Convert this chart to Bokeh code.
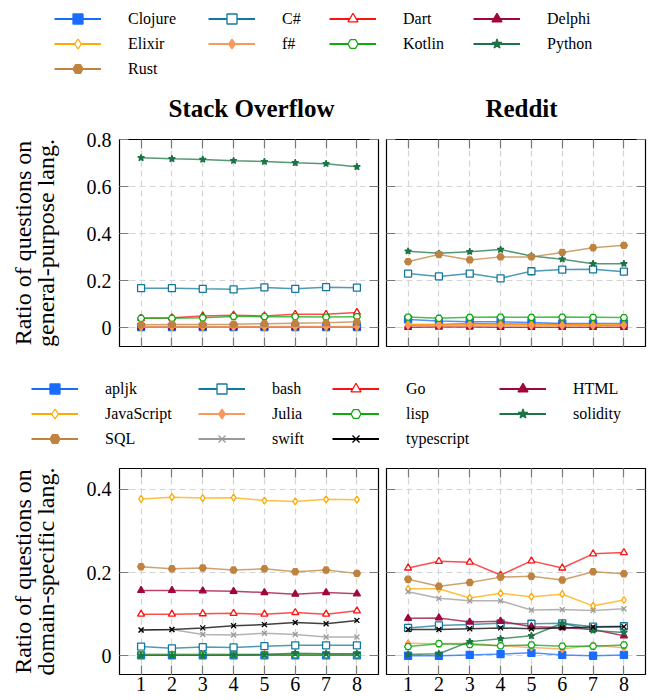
from bokeh.plotting import figure
from bokeh.layouts import column, row
from bokeh.models import (Legend, LegendItem, FixedTicker, LinearAxis, Range1d,
                          CustomLabelingPolicy, Label)
from bokeh.embed import file_html
from bokeh.resources import INLINE

FONT = "Liberation Serif"

# ---------------- data ----------------
x_vals = [1, 2, 3, 4, 5, 6, 7, 8]
x_ticks = [1, 2, 3, 4, 5, 6, 7, 8]
gp_yticks = [0, 0.2, 0.4, 0.6, 0.8]
ds_yticks = [0, 0.2, 0.4]
panel_titles = ["Stack Overflow", "Reddit"]

gp_langs = ["Clojure", "C#", "Dart", "Delphi", "Elixir", "f#", "Kotlin", "Python", "Rust"]
ds_langs = ["apljk", "bash", "Go", "HTML", "JavaScript", "Julia", "lisp", "solidity", "SQL", "swift", "typescript"]

# Stack Overflow, general-purpose
so_clojure = [0.003, 0.003, 0.003, 0.003, 0.003, 0.003, 0.003, 0.003]
so_csharp = [0.168, 0.168, 0.165, 0.163, 0.171, 0.165, 0.172, 0.170]
so_dart = [0.040, 0.042, 0.050, 0.053, 0.050, 0.057, 0.057, 0.065]
so_delphi = [0.002, 0.002, 0.002, 0.002, 0.002, 0.002, 0.002, 0.002]
so_elixir = [0.002, 0.002, 0.002, 0.002, 0.002, 0.002, 0.002, 0.002]
so_fsharp = [0.005, 0.005, 0.005, 0.005, 0.005, 0.005, 0.005, 0.005]
so_kotlin = [0.040, 0.040, 0.042, 0.048, 0.047, 0.047, 0.045, 0.047]
so_python = [0.722, 0.718, 0.715, 0.710, 0.706, 0.701, 0.697, 0.684]
so_rust = [0.012, 0.014, 0.014, 0.015, 0.017, 0.019, 0.021, 0.025]

# Reddit, general-purpose
rd_clojure = [0.035, 0.028, 0.025, 0.025, 0.022, 0.018, 0.018, 0.018]
rd_csharp = [0.230, 0.218, 0.230, 0.210, 0.240, 0.247, 0.248, 0.238]
rd_dart = [0.010, 0.012, 0.018, 0.016, 0.015, 0.013, 0.010, 0.010]
rd_delphi = [0.002, 0.003, 0.003, 0.002, 0.002, 0.002, 0.002, 0.002]
rd_elixir = [0.015, 0.015, 0.016, 0.015, 0.014, 0.012, 0.012, 0.013]
rd_fsharp = [0.008, 0.008, 0.009, 0.008, 0.007, 0.007, 0.007, 0.008]
rd_kotlin = [0.045, 0.040, 0.044, 0.045, 0.044, 0.045, 0.044, 0.043]
rd_python = [0.325, 0.316, 0.323, 0.332, 0.305, 0.291, 0.272, 0.272]
rd_rust = [0.281, 0.311, 0.288, 0.301, 0.301, 0.320, 0.340, 0.350]

# Stack Overflow, domain-specific
so_apljk = [0.001, 0.001, 0.001, 0.001, 0.001, 0.001, 0.001, 0.001]
so_bash = [0.022, 0.018, 0.021, 0.020, 0.023, 0.025, 0.025, 0.025]
so_go = [0.100, 0.100, 0.101, 0.102, 0.100, 0.104, 0.100, 0.108]
so_html = [0.157, 0.157, 0.156, 0.155, 0.152, 0.148, 0.152, 0.149]
so_javascript = [0.377, 0.381, 0.379, 0.380, 0.373, 0.371, 0.376, 0.375]
so_julia = [0.004, 0.004, 0.004, 0.004, 0.004, 0.004, 0.004, 0.004]
so_lisp = [0.002, 0.002, 0.002, 0.002, 0.002, 0.002, 0.002, 0.002]
so_solidity = [0.001, 0.001, 0.001, 0.002, 0.003, 0.006, 0.005, 0.005]
so_sql = [0.214, 0.209, 0.211, 0.206, 0.209, 0.202, 0.206, 0.198]
so_swift = [0.062, 0.063, 0.051, 0.050, 0.054, 0.051, 0.045, 0.045]
so_typescript = [0.062, 0.063, 0.067, 0.072, 0.075, 0.080, 0.077, 0.085]

# Reddit, domain-specific
rd_apljk = [0.000, 0.000, 0.002, 0.004, 0.007, 0.002, 0.000, 0.002]
rd_bash = [0.067, 0.073, 0.075, 0.078, 0.077, 0.078, 0.070, 0.071]
rd_go = [0.211, 0.227, 0.225, 0.194, 0.228, 0.211, 0.245, 0.248]
rd_html = [0.090, 0.091, 0.081, 0.083, 0.070, 0.068, 0.063, 0.048]
rd_javascript = [0.161, 0.161, 0.139, 0.150, 0.142, 0.148, 0.120, 0.134]
rd_julia = [0.030, 0.029, 0.030, 0.024, 0.020, 0.016, 0.025, 0.019]
rd_lisp = [0.022, 0.029, 0.027, 0.024, 0.026, 0.023, 0.023, 0.026]
rd_solidity = [0.003, 0.005, 0.034, 0.041, 0.048, 0.078, 0.061, 0.056]
rd_sql = [0.184, 0.167, 0.176, 0.189, 0.191, 0.182, 0.202, 0.197]
rd_swift = [0.154, 0.138, 0.132, 0.132, 0.110, 0.111, 0.109, 0.113]
rd_typescript = [0.063, 0.063, 0.065, 0.067, 0.065, 0.067, 0.069, 0.070]

so_gp = {"Clojure": so_clojure, "C#": so_csharp, "Dart": so_dart, "Delphi": so_delphi,
         "Elixir": so_elixir, "f#": so_fsharp, "Kotlin": so_kotlin, "Python": so_python, "Rust": so_rust}
rd_gp = {"Clojure": rd_clojure, "C#": rd_csharp, "Dart": rd_dart, "Delphi": rd_delphi,
         "Elixir": rd_elixir, "f#": rd_fsharp, "Kotlin": rd_kotlin, "Python": rd_python, "Rust": rd_rust}
so_ds = {"apljk": so_apljk, "bash": so_bash, "Go": so_go, "HTML": so_html, "JavaScript": so_javascript,
         "Julia": so_julia, "lisp": so_lisp, "solidity": so_solidity, "SQL": so_sql,
         "swift": so_swift, "typescript": so_typescript}
rd_ds = {"apljk": rd_apljk, "bash": rd_bash, "Go": rd_go, "HTML": rd_html, "JavaScript": rd_javascript,
         "Julia": rd_julia, "lisp": rd_lisp, "solidity": rd_solidity, "SQL": rd_sql,
         "swift": rd_swift, "typescript": rd_typescript}

# ---------------- styles ----------------
BLUE, TEAL, RED, MAROON = "#1a6cff", "#13789f", "#ff1010", "#a0063c"
ORANGE, SALMON, GREEN, DGREEN = "#ffaa00", "#f7985e", "#10aa10", "#1d7446"
BROWN, GRAY, BLACK = "#c0823f", "#999999", "#000000"

style = {
    "Clojure": (BLUE, "square", True), "apljk": (BLUE, "square", True),
    "C#": (TEAL, "square", False), "bash": (TEAL, "square", False),
    "Dart": (RED, "triangle", False), "Go": (RED, "triangle", False),
    "Delphi": (MAROON, "triangle", True), "HTML": (MAROON, "triangle", True),
    "Elixir": (ORANGE, "diamond", False), "JavaScript": (ORANGE, "diamond", False),
    "f#": (SALMON, "diamond", True), "Julia": (SALMON, "diamond", True),
    "Kotlin": (GREEN, "hex", False), "lisp": (GREEN, "hex", False),
    "Python": (DGREEN, "star", True), "solidity": (DGREEN, "star", True),
    "Rust": (BROWN, "hex", True), "SQL": (BROWN, "hex", True),
    "swift": (GRAY, "x", False), "typescript": (BLACK, "x", False),
}

HIDE_LABELS = CustomLabelingPolicy(code="for (const i of indices) indices.unset(i)")

ROW = 25  # legend row pitch


def draw_series(p, name, ys, size, lw, lalpha):
    color, marker, filled = style[name]
    r1 = p.line(x_vals, ys, line_color=color, line_width=lw, line_alpha=lalpha)
    r2 = p.scatter(x_vals, ys, marker=marker, size=size, line_color=color,
                   fill_color=color if filled else "white", line_width=1.3)
    return [r1, r2]


def make_legend_fig(height, columns, data, lang_list):
    # legend-only figure: the series are drawn outside its visible range
    p = figure(width=648, height=height, output_backend="svg", toolbar_location=None,
               x_range=Range1d(-20, -19), y_range=Range1d(-20, -19), min_border=0)
    p.axis.visible = False
    p.grid.visible = False
    p.outline_line_color = None
    rend = {}
    for name in lang_list:
        rend[name] = draw_series(p, name, data[name], 11, 2, 1.0)
    for (xpos, top, names) in columns:
        h = len(names) * ROW
        leg = Legend(items=[LegendItem(label=nm, renderers=rend[nm]) for nm in names],
                     location=(xpos, height - top - h), orientation="vertical",
                     glyph_width=47, glyph_height=ROW, spacing=0, padding=0, margin=0,
                     label_standoff=27, label_text_font=FONT, label_text_font_size="16px",
                     label_text_color="#000000", label_height=20,
                     border_line_color=None, background_fill_alpha=0)
        p.add_layout(leg, "center")
    return p


def make_panel(width, height, yrange, yticks, mbl, mbr, mbt, mbb, data, names,
               ylabels=False, xlabels=False, ylabel=None):
    p = figure(width=width, height=height, output_backend="svg", toolbar_location=None,
               x_range=Range1d(0.3, 8.7), y_range=Range1d(*yrange),
               min_border_left=mbl, min_border_right=mbr, min_border_top=mbt, min_border_bottom=mbb)
    p.add_layout(LinearAxis(), "above")
    p.add_layout(LinearAxis(), "right")
    for ax in p.xaxis:
        ax.ticker = FixedTicker(ticks=x_ticks)
    for ax in p.yaxis:
        ax.ticker = FixedTicker(ticks=yticks)
        ax.major_label_overrides = {0: "0"}
    for ax in p.axis:
        ax.axis_line_color = None
        ax.major_tick_in = 9
        ax.major_tick_out = 0
        ax.major_tick_line_color = "#7a7a7a"
        ax.major_tick_line_width = 1.2
        ax.minor_tick_line_color = None
        ax.major_label_text_font = FONT
        ax.major_label_text_font_size = "0px"
        ax.major_label_standoff = 0
        ax.major_label_policy = HIDE_LABELS
    if ylabels:
        ax = p.left[0]
        ax.major_label_text_font_size = "20px"
        ax.major_label_standoff = 8
        ax.major_label_text_color = "#000000"
        ax.major_label_policy = CustomLabelingPolicy(code="return indices")
    if xlabels:
        ax = p.below[0]
        ax.major_label_text_font_size = "20px"
        ax.major_label_standoff = 2
        ax.major_label_text_color = "#000000"
        ax.major_label_policy = CustomLabelingPolicy(code="return indices")
    if ylabel:
        ax = p.left[0]
        ax.axis_label = ylabel
        ax.axis_label_text_font = FONT
        ax.axis_label_text_font_size = "24px"
        ax.axis_label_text_font_style = "normal"
        ax.axis_label_text_color = "#000000"
        ax.axis_label_text_line_height = 0.88
        ax.axis_label_standoff = 25
    p.xgrid.ticker = FixedTicker(ticks=x_ticks)
    p.ygrid.ticker = FixedTicker(ticks=yticks)
    p.grid.grid_line_color = "#d4d4d4"
    p.grid.grid_line_dash = "6 4"
    p.grid.grid_line_width = 1.2
    p.outline_line_color = "#000000"
    p.outline_line_width = 1.2
    for nm in names:
        draw_series(p, nm, data[nm], 7, 1.5, 0.75)
    return p


# top legend + panel titles
LEG1_H = 125
leg1 = make_legend_fig(LEG1_H, [(54, 6, ["Clojure", "Elixir", "Rust"]),
                                (208, 6, ["C#", "f#"]),
                                (329, 6, ["Dart", "Kotlin"]),
                                (473, 6, ["Delphi", "Python"])], so_gp, gp_langs)
for txt, cx in zip(panel_titles, [251, 521]):
    leg1.add_layout(Label(x=cx, y=LEG1_H - 108, x_units="screen", y_units="screen", text=txt,
                          text_align="center", text_baseline="middle", text_font=FONT,
                          text_font_size="25px", text_font_style="bold", text_color="#000000"))

gp_range = (-0.08, 0.8)
ds_range = (-0.045, 0.45)

p_so_gp = make_panel(382, 240, gp_range, gp_yticks, 119, 4, 14, 19, so_gp, gp_langs,
                     ylabels=True, ylabel="Ratio of questions on\ngeneral-purpose lang.")
p_rd_gp = make_panel(266, 240, gp_range, gp_yticks, 4, 3, 14, 19, rd_gp, gp_langs)

leg2 = make_legend_fig(90, [(31, 11, ["apljk", "JavaScript", "SQL"]),
                            (198, 11, ["bash", "Julia", "swift"]),
                            (332, 11, ["Go", "lisp", "typescript"]),
                            (499, 11, ["HTML", "solidity"])], so_ds, ds_langs)

p_so_ds = make_panel(382, 245, ds_range, ds_yticks, 119, 4, 13, 26, so_ds, ds_langs,
                     ylabels=True, xlabels=True,
                     ylabel="Ratio of questions on\ndomain-specific lang.")
p_rd_ds = make_panel(266, 245, ds_range, ds_yticks, 4, 3, 13, 26, rd_ds, ds_langs, xlabels=True)

layout = column(leg1, row(p_so_gp, p_rd_gp), leg2, row(p_so_ds, p_rd_ds))

open("out.html", "w").write(file_html(layout, INLINE))
